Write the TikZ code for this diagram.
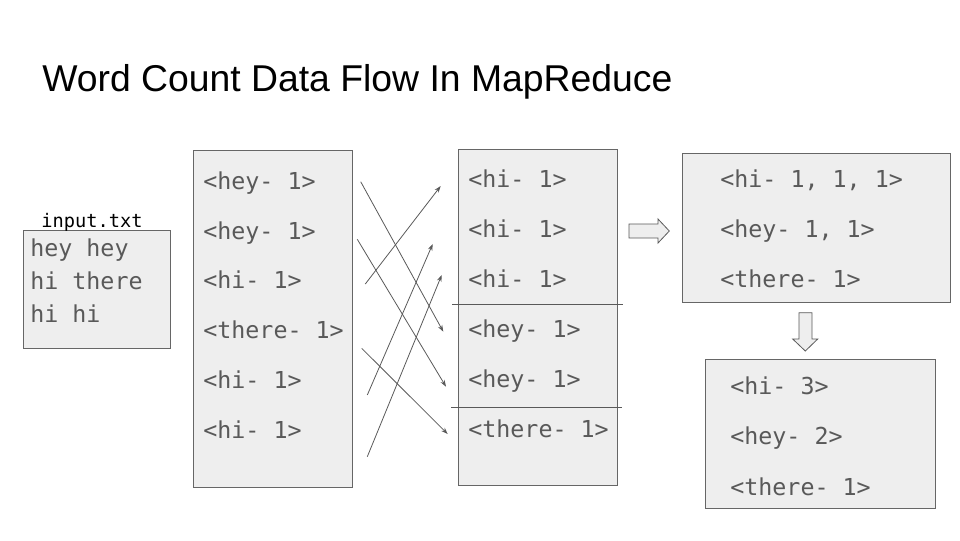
\documentclass[tikz,border=0pt]{standalone}
\usepackage{fontspec}
\setmainfont{Liberation Sans}
\setmonofont{DejaVu Sans Mono}
\usepackage{tikz}
\usetikzlibrary{arrows.meta, positioning}
\definecolor{boxfill}{HTML}{EEEEEE}
\definecolor{boxline}{HTML}{666666}
\definecolor{kvtext}{HTML}{595959}

\begin{document}
\begin{tikzpicture}[
      x=0.75pt, y=-0.75pt, >={Stealth[length=5pt,width=3.5pt]},
      box/.style={draw=boxline, fill=boxfill, line width=0.8pt, anchor=north west, inner sep=0pt},
      kv/.style={anchor=west, inner sep=0pt, text height=12.6pt, text depth=0pt,
        text=kvtext, font=\fontsize{17.5}{21}\selectfont\ttfamily},
      flow/.style={->, draw=kvtext, line width=0.6pt},
      cut/.style={draw=kvtext, line width=0.6pt},
      hollow/.style={draw=kvtext, fill=boxfill, line width=0.6pt},
      ]
      \useasboundingbox (0,0) rectangle (960,540);

      \node[anchor=base west, inner sep=0pt, font=\fontsize{28}{33}\selectfont] (title) at (42,91)
        {Word Count Data Flow In MapReduce};

      % input file
      \node[box, minimum width=110.25pt, minimum height=88.5pt] (input) at (23,230) {};
      \node[anchor=south, inner sep=0pt, font=\fontsize{14}{16}\selectfont\ttfamily] (inname)
        at ([xshift=-3.75pt,yshift=-1.5pt]input.north) {input.txt};
      \node[kv] (in_1) at (30,248) {hey hey};
      \node[kv] (in_2) at (30,281) {hi there};
      \node[kv] (in_3) at (30,314) {hi hi};

      % map output
      \node[box, minimum width=119.25pt, minimum height=252.75pt] (map) at (193,150) {};
      \node[kv] (m_1) at (203,181) {<hey- 1>};
      \node[kv] (m_2) at (203,231) {<hey- 1>};
      \node[kv] (m_3) at (203,280) {<hi- 1>};
      \node[kv] (m_4) at (203,330) {<there- 1>};
      \node[kv] (m_5) at (203,380) {<hi- 1>};
      \node[kv] (m_6) at (203,430) {<hi- 1>};

      % shuffle / sort
      \node[box, minimum width=119.25pt, minimum height=252pt] (shuf) at (458,149) {};
      \node[kv] (s_1) at (468,179) {<hi- 1>};
      \node[kv] (s_2) at (468,229) {<hi- 1>};
      \node[kv] (s_3) at (468,279) {<hi- 1>};
      \node[kv] (s_4) at (468,329) {<hey- 1>};
      \node[kv] (s_5) at (468,379) {<hey- 1>};
      \node[kv] (s_6) at (468,429) {<there- 1>};
      \coordinate (cut_1a) at (452,304);
      \coordinate (cut_1b) at (623,304);
      \coordinate (cut_2a) at (451,407);
      \coordinate (cut_2b) at (622,407);
      \path[cut] (cut_1a) -- (cut_1b);
      \path[cut] (cut_2a) -- (cut_2b);

      % grouped values
      \node[box, minimum width=201pt, minimum height=111.75pt] (group) at (682,153) {};
      \node[kv] (g_1) at (720,179) {<hi- 1, 1, 1>};
      \node[kv] (g_2) at (720,229) {<hey- 1, 1>};
      \node[kv] (g_3) at (720,279) {<there- 1>};

      % reduce output
      \node[box, minimum width=172.5pt, minimum height=111.75pt] (result) at (705,359) {};
      \node[kv] (r_1) at (730,386) {<hi- 3>};
      \node[kv] (r_2) at (730,436) {<hey- 2>};
      \node[kv] (r_3) at (730,487) {<there- 1>};

      % shuffle arrows
      \coordinate (from_1) at (360.7,181.7);  \coordinate (to_1) at (443.3,331.7);
      \coordinate (from_2) at (357.3,239.3);  \coordinate (to_2) at (446,386.7);
      \coordinate (from_3) at (365.3,284);    \coordinate (to_3) at (440.7,186);
      \coordinate (from_4) at (361.7,348.3);  \coordinate (to_4) at (447.7,434);
      \coordinate (from_5) at (367.3,395);    \coordinate (to_5) at (432.7,244);
      \coordinate (from_6) at (367.3,456.7);  \coordinate (to_6) at (441.7,275);

      \path[flow] (from_1) -- (to_1);
      \path[flow] (from_2) -- (to_2);
      \path[flow] (from_3) -- (to_3);
      \path[flow] (from_4) -- (to_4);
      \path[flow] (from_5) -- (to_5);
      \path[flow] (from_6) -- (to_6);

      % block arrows
      \path[hollow] (629,224) -- (658,224) -- (658,219) -- (669.3,231) -- (658,243)
        -- (658,238) -- (629,238) -- cycle;
      \path[hollow] (799,312.7) -- (812,312.7) -- (812,339) -- (817.7,339) -- (805.3,351)
        -- (792.7,339) -- (799,339) -- cycle;
    \end{tikzpicture}
\end{document}
